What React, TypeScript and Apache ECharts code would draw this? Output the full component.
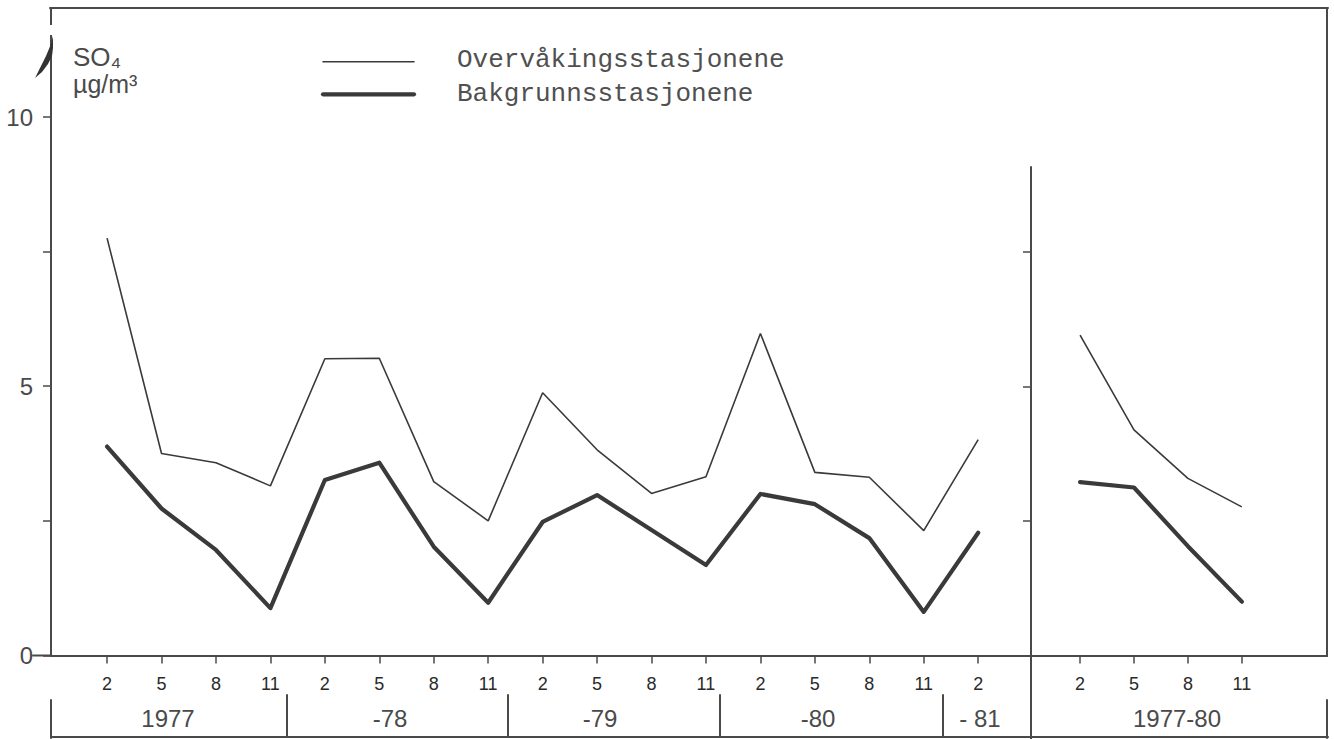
import React, { useEffect, useRef } from "react";
import * as echarts from "echarts";

// ---- data ----
const monthLabelsLeft = ["2", "5", "8", "11", "2", "5", "8", "11", "2", "5", "8", "11", "2", "5", "8", "11", "2"];
const monthLabelsRight = ["2", "5", "8", "11"];
const overvakingLeft = [7.75, 3.75, 3.58, 3.15, 5.51, 5.52, 3.23, 2.5, 4.88, 3.82, 3.01, 3.32, 5.98, 3.4, 3.31, 2.32, 4.01];
const bakgrunnLeft = [3.88, 2.73, 1.96, 0.88, 3.26, 3.58, 2.02, 0.98, 2.48, 2.98, 2.33, 1.68, 3.0, 2.81, 2.18, 0.81, 2.28];
const overvakingRight = [5.95, 4.19, 3.29, 2.76];
const bakgrunnRight = [3.22, 3.12, 2.03, 1.0];
const yTickValues = [0, 2.5, 5, 7.5, 10];
const yLabelValues = [0, 5, 10];
const yTickValuesRight = [2.5, 5, 7.5];
const yearLabels = ["1977", "-78", "-79", "-80", "- 81", "1977-80"];
const seriesNames = ["Overvåkingsstasjonene", "Bakgrunnsstasjonene"];

const INK = "#4a4a4a";
const LINE = "#3a3a3a";
const THIN = 1.6;
const THICK = 4.2;

export default function App() {
  const ref = useRef<HTMLDivElement>(null);

  useEffect(() => {
    document.body.style.margin = "0";
    if (!ref.current) return;
    const chart = echarts.init(ref.current, undefined, { renderer: "svg" });

    const idxLeft = monthLabelsLeft.map((_, i) => i);
    const idxRight = monthLabelsRight.map((_, i) => i);

    const yearX = [168, 390, 600, 818, 980, 1177];
    const dividerX = [287, 508, 720, 943];

    const ln = (x1: number, y1: number, x2: number, y2: number, w = 2, color = INK) => ({
      type: "line",
      silent: true,
      z: 50,
      shape: { x1, y1, x2, y2 },
      style: { stroke: color, lineWidth: w, lineCap: "round" },
    });

    const graphics: any[] = [
      // frame
      ln(50, 8, 1328, 8),
      ln(1327, 8, 1327, 656),
      // zero tick extension on left
      ln(33, 655.5, 51, 655.5, 2),
      // bracket row
      ln(51, 700, 51, 738),
      ln(51, 737, 1328, 737),
      ln(1031, 655, 1031, 739),
      ln(1327, 700, 1327, 738),
      ...dividerX.map((x) => ln(x, 695, x, 737)),
      // legend keys
      ln(323, 61.7, 414, 61.7, THIN, LINE),
      ln(323, 94.3, 414, 94.3, THICK, LINE),
      // gap in the left axis near the top
      {
        type: "rect",
        silent: true,
        z: 60,
        shape: { x: 47, y: 25, width: 8, height: 10 },
        style: { fill: "#ffffff" },
      },
      // curved mark at top of axis
      {
        type: "polygon",
        silent: true,
        z: 61,
        shape: {
          points: [
            [53, 36],
            [51, 44],
            [46, 56],
            [40, 68],
            [35, 78],
            [42, 72],
            [48, 64],
            [52, 56],
            [53, 48],
          ],
        },
        style: { fill: "#333" },
      },
      // unit label
      {
        type: "text",
        silent: true,
        z: 50,
        x: 73,
        y: 57,
        style: {
          text: "SO₄",
          fill: INK,
          font: "26px 'Liberation Sans', 'DejaVu Sans', sans-serif",
          align: "left",
          verticalAlign: "middle",
          textAlign: "left",
          textVerticalAlign: "middle",
        },
      },
      {
        type: "text",
        silent: true,
        z: 50,
        x: 73,
        y: 84,
        style: {
          text: "µg/m³",
          fill: INK,
          font: "25px 'Liberation Sans', 'DejaVu Sans', sans-serif",
          align: "left",
          verticalAlign: "middle",
          textAlign: "left",
          textVerticalAlign: "middle",
        },
      },
      ...yearLabels.map((t, i) => ({
        type: "text",
        silent: true,
        z: 50,
        x: yearX[i],
        y: 718,
        style: {
          text: t,
          fill: INK,
          font: "24px 'Liberation Sans', sans-serif",
          align: "center",
          verticalAlign: "middle",
          textAlign: "center",
          textVerticalAlign: "middle",
        },
      })),
    ];

    const axisLineStyle = { color: INK, width: 2 };
    const tickStyle = { color: INK, width: 1.5 };
    const monthLabelStyle = {
      fontSize: 18,
      color: "#2a2a2a",
      fontFamily: "'Liberation Sans', sans-serif",
      margin: 19,
    };

    chart.setOption({
      animation: false,
      backgroundColor: "#ffffff",
      legend: {
        orient: "vertical",
        left: 322,
        top: 41.5,
        itemWidth: 93,
        itemHeight: 20,
        itemGap: 8.6,
        selectedMode: false,
        icon: "none",
        textStyle: {
          fontFamily: "'Liberation Mono', 'DejaVu Sans Mono', monospace",
          fontSize: 26,
          lineHeight: 20,
          height: 20,
          color: "#505050",
          padding: [0, 0, 0, 32],
        },
        data: [
          { name: seriesNames[0], icon: "none" },
          { name: seriesNames[1], icon: "none" },
        ],
      },
      grid: [
        { left: 51, top: 9.3, width: 980, height: 646.2, outerBoundsMode: "none", containLabel: false },
        { left: 1031, top: 167.1, width: 296, height: 488.4, outerBoundsMode: "none", containLabel: false },
      ],
      xAxis: [
        {
          type: "value",
          gridIndex: 0,
          min: -1.03,
          max: 16.97,
          axisLine: { show: true, onZero: false, lineStyle: axisLineStyle },
          axisTick: { show: true, inside: false, length: 8, customValues: idxLeft, lineStyle: tickStyle },
          axisLabel: {
            ...monthLabelStyle,
            customValues: idxLeft,
            formatter: (v: number) => monthLabelsLeft[Math.round(v)] ?? "",
          },
          splitLine: { show: false },
        },
        {
          type: "value",
          gridIndex: 1,
          min: -0.91,
          max: 4.58,
          axisLine: { show: true, onZero: false, lineStyle: axisLineStyle },
          axisTick: { show: true, inside: false, length: 8, customValues: idxRight, lineStyle: tickStyle },
          axisLabel: {
            ...monthLabelStyle,
            customValues: idxRight,
            formatter: (v: number) => monthLabelsRight[Math.round(v)] ?? "",
          },
          splitLine: { show: false },
        },
      ],
      yAxis: [
        {
          type: "value",
          gridIndex: 0,
          min: 0,
          max: 12,
          axisLine: { show: true, onZero: false, lineStyle: axisLineStyle },
          axisTick: { show: true, inside: false, length: 8, customValues: yTickValues, lineStyle: tickStyle },
          axisLabel: {
            customValues: yLabelValues,
            margin: 18,
            fontSize: 24,
            color: INK,
            fontFamily: "'Liberation Sans', sans-serif",
          },
          splitLine: { show: false },
        },
        {
          type: "value",
          gridIndex: 1,
          min: 0,
          max: 9.07,
          axisLine: { show: true, onZero: false, lineStyle: axisLineStyle },
          axisTick: { show: true, inside: false, length: 8, customValues: yTickValuesRight, lineStyle: tickStyle },
          axisLabel: { show: false },
          splitLine: { show: false },
        },
      ],
      series: [
        {
          name: seriesNames[0],
          type: "line",
          xAxisIndex: 0,
          yAxisIndex: 0,
          symbol: "none",
          lineStyle: { color: LINE, width: THIN },
          itemStyle: { color: LINE },
          data: overvakingLeft.map((v, i) => [i, v]),
        },
        {
          name: seriesNames[1],
          type: "line",
          xAxisIndex: 0,
          yAxisIndex: 0,
          symbol: "none",
          lineStyle: { color: LINE, width: THICK, join: "round", cap: "round" },
          itemStyle: { color: LINE },
          data: bakgrunnLeft.map((v, i) => [i, v]),
        },
        {
          name: seriesNames[0],
          type: "line",
          xAxisIndex: 1,
          yAxisIndex: 1,
          symbol: "none",
          lineStyle: { color: LINE, width: THIN },
          itemStyle: { color: LINE },
          data: overvakingRight.map((v, i) => [i, v]),
        },
        {
          name: seriesNames[1],
          type: "line",
          xAxisIndex: 1,
          yAxisIndex: 1,
          symbol: "none",
          lineStyle: { color: LINE, width: THICK, join: "round", cap: "round" },
          itemStyle: { color: LINE },
          data: bakgrunnRight.map((v, i) => [i, v]),
        },
      ],
      graphic: { elements: graphics },
    });

    return () => chart.dispose();
  }, []);

  return <div ref={ref} style={{ width: 1334, height: 739 }} />;
}
